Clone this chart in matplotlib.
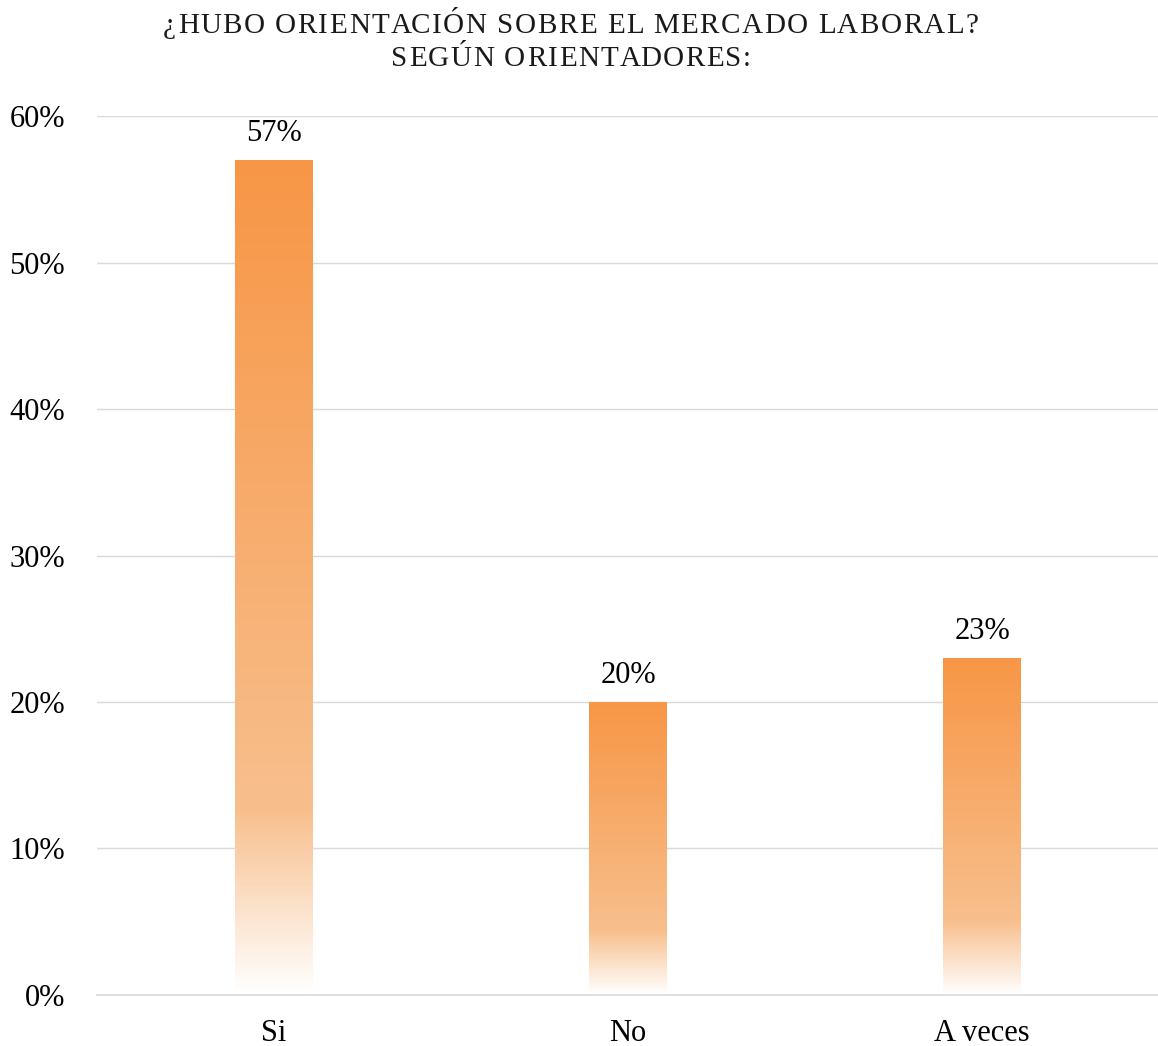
import numpy as np
import matplotlib.pyplot as plt
from matplotlib.colors import LinearSegmentedColormap
from matplotlib.font_manager import FontProperties

# data
categorias = ["Si", "No", "A veces"]
valores = [57, 20, 23]
yticks = [0, 10, 20, 30, 40, 50, 60]
titulo = ["¿HUBO ORIENTACIÓN SOBRE EL MERCADO LABORAL?", "SEGÚN ORIENTADORES:"]

plt.rcParams['font.family'] = ['Liberation Serif', 'DejaVu Serif']

fig = plt.figure(figsize=(11.58, 10.46), dpi=100)
ax = fig.add_axes([97 / 1158, 0.0488, 1062 / 1158, 0.8402])

x = np.arange(len(categorias))
bars = ax.bar(x, valores, width=0.22, color="none", edgecolor="none", zorder=2)

# gradient: top orange, lighter near the bottom, white at base
cmap = LinearSegmentedColormap.from_list(
    "naranja", [(0.0, "#ffffff"), (0.22, "#f8bf8d"), (1.0, "#f79646")])
grad = np.linspace(0, 1, 256).reshape(-1, 1)
for b in bars:
    x0 = b.get_x(); w = b.get_width(); h = b.get_height()
    ax.imshow(grad, cmap=cmap, origin="lower", aspect="auto",
              extent=(x0, x0 + w, 0, h), zorder=2, interpolation="bicubic")
    ax.text(x0 + w / 2, h + 0.85, f"{h:.0f}%", ha="center", va="bottom",
            fontsize=22, color="#000000")

ax.set_xlim(-0.5, len(categorias) - 0.5)
ax.set_ylim(0, 60)
ax.set_yticks(yticks)
ax.set_yticklabels([f"{t}%" for t in yticks])
ax.set_xticks(x)
ax.set_xticklabels(categorias)
ax.tick_params(axis="both", length=0, labelsize=22, colors="#000000")
ax.tick_params(axis="y", pad=23)
ax.tick_params(axis="x", pad=17)
ax.yaxis.grid(True, color="#d9d9d9", lw=1)
ax.set_axisbelow(True)
for s in ["top", "right", "left"]:
    ax.spines[s].set_visible(False)
ax.spines["bottom"].set_color("#d9d9d9")
ax.spines["bottom"].set_linewidth(1.2)

# title with letter spacing (drawn char by char)
renderer = fig.canvas.get_renderer()
prop = FontProperties(family="Liberation Serif", size=21)
espacio = 1.5  # px between letters
W, H = fig.get_size_inches() * fig.dpi

def ancho(s):
    w_ref, _, _ = renderer.get_text_width_height_descent("H", prop, ismath=False)
    w, _, _ = renderer.get_text_width_height_descent(s + "H", prop, ismath=False)
    return w - w_ref

for linea, base in zip(titulo, [33, 66]):
    total = ancho(linea) + espacio * (len(linea) - 1)
    x_ini = 571 - total / 2
    for i, ch in enumerate(linea):
        px = x_ini + ancho(linea[:i]) + espacio * i
        fig.text(px / W, 1 - base / H, ch, ha="left", va="baseline",
                 fontproperties=prop, color="#1a1a1a")

fig.savefig("out.png", dpi=100)
